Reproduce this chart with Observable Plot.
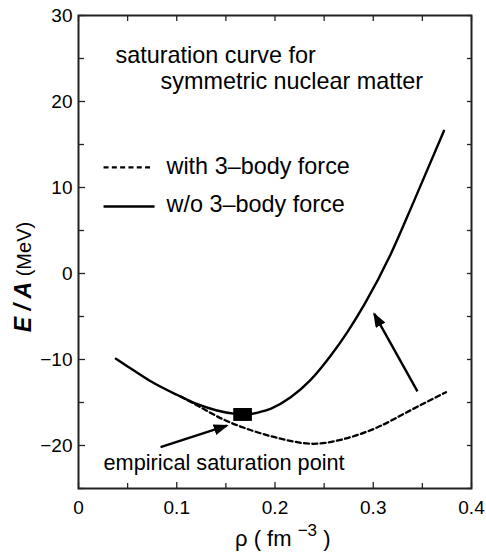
<!DOCTYPE html>
<html><head><meta charset="utf-8">
<script src="https://cdn.jsdelivr.net/npm/d3@7"></script>
<script src="https://cdn.jsdelivr.net/npm/@observablehq/plot@0.6"></script>
<style>
html,body{margin:0;padding:0;background:#fff;}
#chart{width:486px;height:554px;}
svg{font-family:"Liberation Sans",Arial,Helvetica,sans-serif;}
</style></head><body><div id="chart"></div>
<script>
// w/o 3-body force (solid)
const rhoWithout = [0.038,0.05,0.073,0.1,0.121,0.14,0.158,0.17,0.185,0.196,0.216,0.236,0.257,0.274,0.291,0.318,0.341,0.372];
const eWithout   = [-9.9,-10.8,-12.5,-14.1,-15.2,-15.9,-16.3,-16.4,-16.1,-15.7,-14.4,-12.4,-9.5,-6.75,-3.6,2.3,8.3,16.6];
// with 3-body force (dashed)
const rhoWith = [0.104,0.121,0.148,0.175,0.202,0.239,0.27,0.304,0.338,0.374];
const eWith   = [-14.3,-15.35,-17.0,-18.2,-19.1,-19.8,-19.25,-17.9,-15.9,-13.8];
// empirical saturation box
const satRho = [0.158,0.177];
const satE = [-17.2,-15.7];
// arrows
const arrowRhoFrom = [0.0835,0.345];
const arrowEFrom   = [-20.2,-13.7];
const arrowRhoTo   = [0.151,0.301];
const arrowETo     = [-17.7,-4.7];
// annotations
const noteText = ["saturation curve for","symmetric nuclear matter","with 3\u2013body force","w/o 3\u2013body force","empirical saturation point"];
const noteRho  = [0.0377,0.0835,0.0896,0.0896,0.0255];
const noteE    = [24.5,21.5,11.6,7.1,-22.9];
const noteSize = [23.4,23.4,23.4,23.4,21.7];
// legend samples
const keyRho1 = [0.0255,0.0255];
const keyRho2 = [0.0739,0.0774];
const keyE    = [12.33,7.79];
const keyDash = ["5,3.3","none"];
// ticks
const xMajor = [0,0.1,0.2,0.3,0.4];
const xLabels = ["0","0.1","0.2","0.3","0.4"];
const xMinor = [0.05,0.15,0.25,0.35];
const yMajor = [-20,-10,0,10,20,30];
const yMinor = [-25,-15,-5,5,15,25];

const solid = rhoWithout.map((r,i)=>({rho:r,e:eWithout[i]}));
const dashed = rhoWith.map((r,i)=>({rho:r,e:eWith[i]}));
const arrows = arrowRhoFrom.map((r,i)=>({x1:r,y1:arrowEFrom[i],x2:arrowRhoTo[i],y2:arrowETo[i]}));
const notes = noteText.map((t,i)=>({t,x:noteRho[i],y:noteE[i],s:noteSize[i]}));
const keys = keyE.map((e,i)=>({x1:keyRho1[i],x2:keyRho2[i],y:e,dash:keyDash[i]}));

function filledArrow(color){
  const m = d3.create("svg:marker")
    .attr("viewBox","-15 -5.5 15 11").attr("refX",-2).attr("refY",0)
    .attr("markerWidth",15).attr("markerHeight",11)
    .attr("markerUnits","userSpaceOnUse").attr("orient","auto");
  m.append("path").attr("d","M-15,-5.5L0,0L-15,5.5Z").attr("fill",color).attr("stroke","none");
  return m.node();
}

const tickStroke = "#222";
const chart = Plot.plot({
  width:486, height:554, marginLeft:78, marginRight:15, marginTop:15, marginBottom:66,
  x:{domain:[0,0.4]}, y:{domain:[-25,30]},
  style:{fontFamily:'"Liberation Sans",Arial,sans-serif', fontSize:"19px", color:"black", background:"white"},
  marks:[
    Plot.axisX(xMajor,{anchor:"bottom", tickSize:6, dy:-6, tickPadding:12, tickFormat:(d)=>xLabels[xMajor.indexOf(d)], label:null, stroke:tickStroke, strokeWidth:1.3, fill:"black"}),
    Plot.axisX(xMinor,{anchor:"bottom", tickSize:5, dy:-5, tickFormat:()=>"", label:null, stroke:tickStroke, strokeWidth:1.3}),
    Plot.axisX(xMajor.concat(xMinor),{anchor:"top", tickSize:5, dy:5, tickFormat:()=>"", label:null, stroke:tickStroke, strokeWidth:1.3}),
    Plot.axisY(yMajor,{anchor:"left", tickSize:7, dx:7, tickPadding:6, label:null, stroke:tickStroke, strokeWidth:1.3, fill:"black"}),
    Plot.axisY(yMinor,{anchor:"left", tickSize:6, dx:6, tickFormat:()=>"", label:null, stroke:tickStroke, strokeWidth:1.3}),
    Plot.axisY(yMajor.concat(yMinor),{anchor:"right", tickSize:5, dx:-5, tickFormat:()=>"", label:null, stroke:tickStroke, strokeWidth:1.3}),
    Plot.frame({stroke:"#222", strokeWidth:2}),
    Plot.line(dashed,{x:"rho", y:"e", stroke:"black", strokeWidth:2.3, strokeDasharray:"5,3.3", curve:"monotone-x"}),
    Plot.line(solid,{x:"rho", y:"e", stroke:"black", strokeWidth:2.4, curve:"monotone-x"}),
    Plot.rect([{x1:satRho[0],x2:satRho[1],y1:satE[0],y2:satE[1]}],{x1:"x1",x2:"x2",y1:"y1",y2:"y2", fill:"black"}),
    Plot.link(arrows,{x1:"x1",y1:"y1",x2:"x2",y2:"y2", stroke:"black", strokeWidth:2.4, markerEnd:filledArrow}),
    Plot.link(keys.filter(k=>k.dash!=="none"),{x1:"x1",x2:"x2",y1:"y",y2:"y", stroke:"black", strokeWidth:2.3, strokeDasharray:"5,3.3"}),
    Plot.link(keys.filter(k=>k.dash==="none"),{x1:"x1",x2:"x2",y1:"y",y2:"y", stroke:"black", strokeWidth:2.4}),
    Plot.text(notes,{x:"x", y:"y", text:"t", textAnchor:"start", lineAnchor:"bottom", fontSize:"s", fill:"black"})
  ]
});
document.getElementById("chart").appendChild(chart);

const svg = d3.select(chart);
const ff = '"Liberation Sans",Arial,sans-serif';
const xl = svg.append("text").attr("x",235).attr("y",546).attr("text-anchor","start").attr("font-family",ff).attr("font-size",22).attr("fill","black");
xl.append("tspan").text("\u03C1 ( fm ");
xl.append("tspan").attr("font-size",17).attr("dy",-10).text("\u22123");
xl.append("tspan").attr("dy",10).text(" )");

const yl = svg.append("text").attr("transform","translate(31,277) rotate(-90)").attr("text-anchor","middle").attr("font-family",ff).attr("fill","black");
yl.append("tspan").attr("font-size",23).attr("font-weight","bold").attr("font-style","italic").text("E / A");
yl.append("tspan").attr("font-size",20).text(" (MeV)");
</script>
</body></html>
